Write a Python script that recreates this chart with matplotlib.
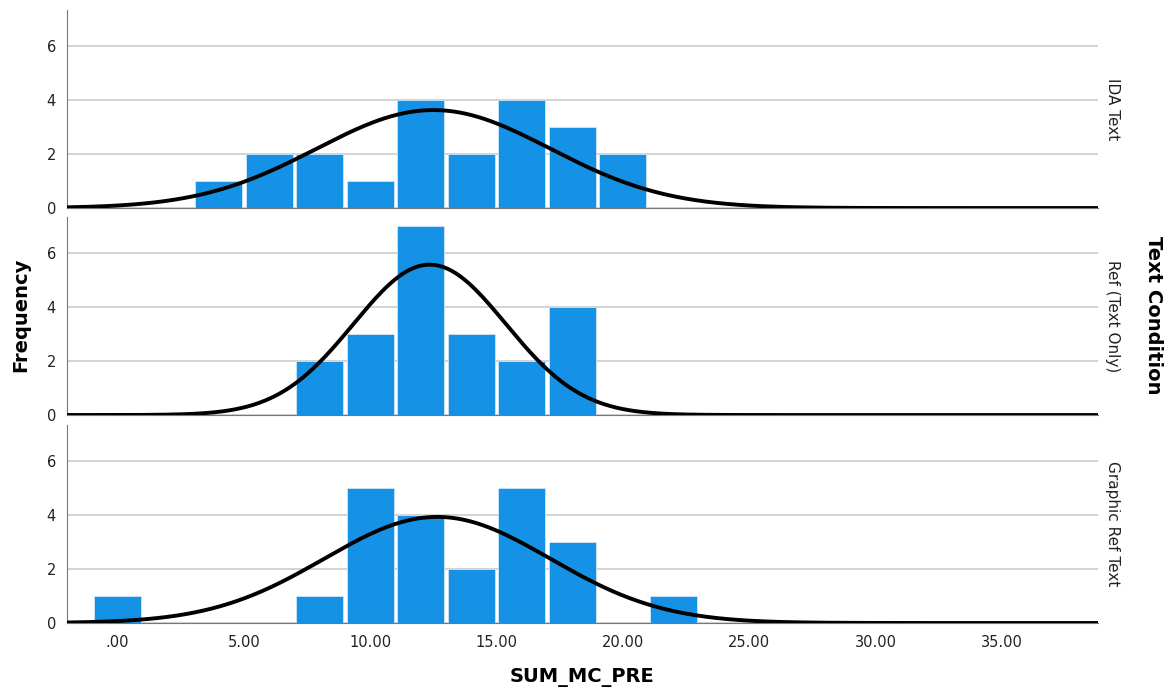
import numpy as np
import matplotlib
matplotlib.use('Agg')
import matplotlib.pyplot as plt

panels = ['IDA Text', 'Ref (Text Only)', 'Graphic Ref Text']

bin_centers = [0, 2, 4, 6, 8, 10, 12, 14, 16, 18, 20, 22]
counts = {
    'IDA Text':         [0, 0, 1, 2, 2, 1, 4, 2, 4, 3, 2, 0],
    'Ref (Text Only)':  [0, 0, 0, 0, 2, 3, 7, 3, 2, 4, 0, 0],
    'Graphic Ref Text': [1, 0, 0, 0, 1, 5, 4, 2, 5, 3, 0, 1],
}
# fitted normal curve parameters
means = {'IDA Text': 12.5, 'Ref (Text Only)': 12.35, 'Graphic Ref Text': 12.65}
sds = {'IDA Text': 4.62, 'Ref (Text Only)': 3.01, 'Graphic Ref Text': 4.47}

xticks = [0, 5, 10, 15, 20, 25, 30, 35]
yticks = [0, 2, 4, 6]
bin_width = 2
bar_color = '#1591E6'

fig = plt.figure(figsize=(11.72, 6.96), dpi=100)
left, width = 0.0572, 0.8797
bottoms = [0.7011, 0.4037, 0.1049]
height = 0.2845

xs = np.linspace(-2, 38.8, 500)
for i, name in enumerate(panels):
    ax = fig.add_axes([left, bottoms[i], width, height])
    c = counts[name]
    ax.bar(bin_centers, c, width=bin_width * 0.93, color=bar_color,
           edgecolor='#cfe6f8', linewidth=0.6, zorder=2)
    n = sum(c)
    mu, sd = means[name], sds[name]
    ys = n * bin_width / (sd * np.sqrt(2 * np.pi)) * np.exp(-0.5 * ((xs - mu) / sd) ** 2)
    ax.plot(xs, ys, color='black', lw=2.8, zorder=3, solid_capstyle='butt')

    ax.set_xlim(-2, 38.8)
    ax.set_ylim(0, 7.33)
    ax.set_yticks(yticks)
    ax.set_xticks(xticks)
    ax.yaxis.grid(True, color='#cccccc', lw=1.2, zorder=0)
    ax.set_axisbelow(True)
    for s in ['top', 'right']:
        ax.spines[s].set_visible(False)
    ax.spines['left'].set_color('#777777')
    ax.spines['bottom'].set_color('#777777')
    ax.tick_params(axis='both', length=0, labelsize=10.5, colors='#222222')
    ax.tick_params(axis='y', pad=8)
    if i < 2:
        ax.set_xticklabels([])
    else:
        ax.set_xticklabels([('%.2f' % v).lstrip('0') if v == 0 else '%.2f' % v for v in xticks])
        ax.tick_params(axis='x', pad=9)
    ax.text(1.0136, 0.5, name, transform=ax.transAxes, rotation=-90,
            ha='center', va='center', fontsize=11, color='#222222')

fig.text(0.018, 0.547, 'Frequency', rotation=90, ha='center', va='center',
         fontsize=14, fontweight='bold')
fig.text(0.984, 0.547, 'Text Condition', rotation=-90, ha='center', va='center',
         fontsize=14, fontweight='bold')
fig.text(0.497, 0.027, 'SUM_MC_PRE', ha='center', va='center',
         fontsize=14, fontweight='bold')

fig.savefig('out.png', dpi=100)
